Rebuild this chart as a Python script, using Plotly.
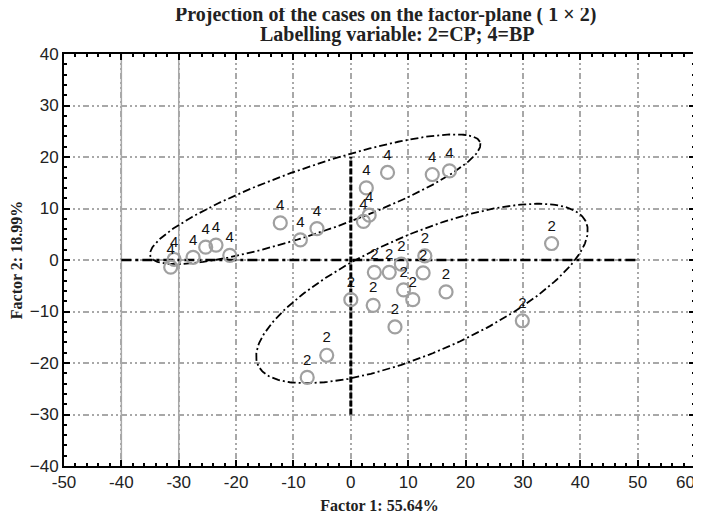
import numpy as np
import plotly.graph_objects as go

# ---- data ----
bp_x = [-31.4, -30.8, -27.5, -25.3, -23.5, -21.1, -12.3, -8.8, -5.9, 2.7, 2.2, 3.2, 6.4, 14.2, 17.2]
bp_y = [-1.4, 0.1, 0.5, 2.5, 2.9, 0.9, 7.2, 3.9, 6.1, 14.0, 7.5, 8.7, 17.0, 16.6, 17.3]
bp_lab = ["4"] * len(bp_x)

cp_x = [35.0, 29.9, 4.1, 6.7, 8.8, 12.9, 12.6, 9.2, 10.8, 16.6, 3.9, 7.7, 0.0, -4.2, -7.6]
cp_y = [3.2, -11.8, -2.4, -2.4, -0.8, 0.8, -2.5, -5.8, -7.7, -6.2, -8.8, -13.0, -7.7, -18.5, -22.8]
cp_lab = ["2"] * len(cp_x)

# ellipse parameters: centre x, centre y, semi-major, semi-minor, angle (deg)
ell_bp = [-6.2, 11.8, 30.8, 6.3, 21.2]
ell_cp = [12.4, -6.5, 31.8, 11.3, 26.5]

# axis cross lines
hline_x = [-40, 50]
vline_y = [-30, 20]

tick_vals_x = [-50, -40, -30, -20, -10, 0, 10, 20, 30, 40, 50, 60]
tick_text_x = ["-50", "-40", "-30", "-20", "-10", "0", "10", "20", "30", "40", "50",
               "60\u00a0\u00a0\u00a0\u00a0"]
tick_vals_y = [-40, -30, -20, -10, 0, 10, 20, 30, 40]
solid_grid_x = [-40, -30]

title_line1 = "Projection of the cases on the factor-plane ( 1 × 2)"
title_line2 = "Labelling variable: 2=CP; 4=BP"
x_title = "Factor 1: 55.64%"
y_title = "Factor 2: 18.99%"


def ellipse(p, n=300):
    cx, cy, a, b, ang = p
    t = np.linspace(0, 2 * np.pi, n)
    th = np.deg2rad(ang)
    x = cx + a * np.cos(t) * np.cos(th) - b * np.sin(t) * np.sin(th)
    y = cy + a * np.cos(t) * np.sin(th) + b * np.sin(t) * np.cos(th)
    return x, y


fig = go.Figure()

for xv in solid_grid_x:
    fig.add_shape(type="line", x0=xv, x1=xv, y0=-40, y1=40, xref="x", yref="y",
                  line=dict(color="#a8a8a8", width=1.5), layer="below")

for p in (ell_bp, ell_cp):
    ex, ey = ellipse(p)
    fig.add_trace(go.Scatter(x=ex, y=ey, mode="lines",
                             line=dict(color="black", width=1.8, dash="8px,3px,2px,3px"),
                             hoverinfo="skip", showlegend=False))

fig.add_trace(go.Scatter(x=hline_x, y=[0, 0], mode="lines",
                         line=dict(color="black", width=2.5, dash="10px,4px,3px,4px"),
                         showlegend=False, hoverinfo="skip"))
fig.add_trace(go.Scatter(x=[0, 0], y=vline_y, mode="lines",
                         line=dict(color="black", width=3, dash="6px,2px"),
                         showlegend=False, hoverinfo="skip"))

for xs, ys, labs in ((bp_x, bp_y, bp_lab), (cp_x, cp_y, cp_lab)):
    fig.add_trace(go.Scatter(
        x=xs, y=ys, text=labs, mode="markers+text", textposition="top center",
        marker=dict(symbol="circle-open", size=13, color="#a0a0a0", line=dict(width=2.2)),
        textfont=dict(family="Liberation Sans, Arial", size=15, color="#111"),
        showlegend=False))

axis_common = dict(
    showline=True, linecolor="black", linewidth=2, mirror="allticks",
    ticks="inside", ticklen=6, tickwidth=1.5, tickcolor="black",
    minor=dict(ticks="inside", dtick=2, ticklen=3, tickcolor="black", showgrid=False),
    showgrid=True, gridcolor="#a8a8a8", gridwidth=1.5, griddash="6px,3px,2px,3px,2px,3px",
    zeroline=False, automargin=False, ticklabeloverflow="allow",
    tickfont=dict(family="Liberation Sans, Arial", size=17, color="#222"),
    title_font=dict(family="Liberation Serif, Times New Roman", size=16, color="#222"),
)

fig.update_xaxes(range=[-50, 60], tickvals=tick_vals_x, ticktext=tick_text_x,
                 title_text="<b>" + x_title + "</b>", title_standoff=8, **axis_common)
fig.update_yaxes(range=[-40, 40], tickvals=tick_vals_y,
                 title_text="<b>" + y_title + "</b>", title_standoff=6, **axis_common)

title_font = dict(family="Liberation Serif, Times New Roman", size=20, color="#222")
fig.add_annotation(text="<b>" + title_line1 + "</b>", xref="paper", yref="paper",
                   x=(377 - 56) / 631, y=1 + (46 - 20) / 412, xanchor="center", yanchor="bottom",
                   showarrow=False, font=title_font)
fig.add_annotation(text="<b>" + title_line2 + "</b>", xref="paper", yref="paper",
                   x=(389 - 56) / 631, y=1 + (46 - 40) / 412, xanchor="center", yanchor="bottom",
                   showarrow=False, font=title_font)

fig.update_layout(
    width=701, height=522,
    margin=dict(l=56, r=14, t=46, b=64),
    plot_bgcolor="white", paper_bgcolor="white",
)

fig.write_html("out.html")
